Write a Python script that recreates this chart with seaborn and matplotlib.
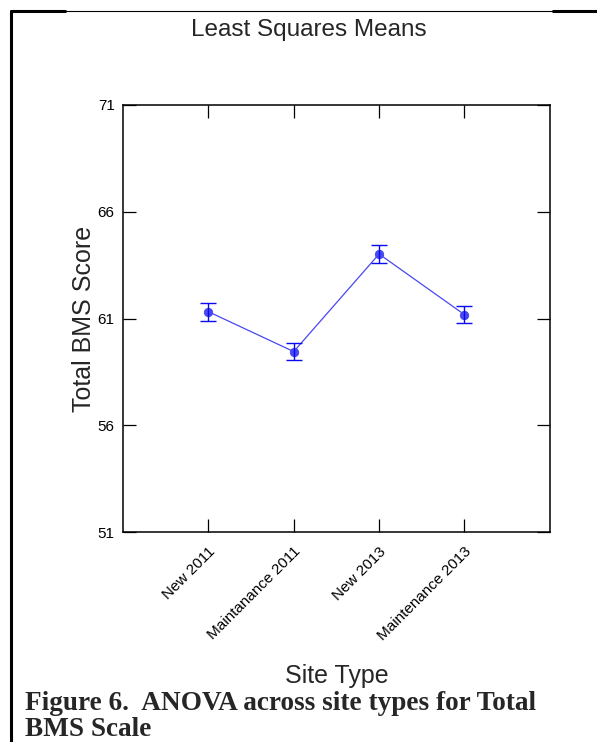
import matplotlib
matplotlib.use("Agg")
import matplotlib.pyplot as plt
import matplotlib.lines as mlines
import seaborn as sns
import pandas as pd

# data
site_types = ["New 2011", "Maintanance 2011", "New 2013", "Maintenance 2013"]
ls_means = [61.32, 59.45, 64.02, 61.18]
std_err = [0.42, 0.40, 0.44, 0.40]
y_ticks = [51, 56, 61, 66, 71]

df = pd.DataFrame({"site": site_types, "score": ls_means})

sns.set_style("white")
plt.rcParams["font.family"] = ["Liberation Sans", "DejaVu Sans"]

fig = plt.figure(figsize=(5.97, 7.42), dpi=100)
ax = fig.add_axes([0.206, 0.283, 0.715, 0.5755])

blue = "#0a0af0"
sns.pointplot(data=df, x="site", y="score", color=blue, markers="o",
              linestyles="-", errorbar=None, ax=ax,
              markersize=6, linewidth=0.9)
ax.errorbar(range(len(ls_means)), ls_means, yerr=std_err, fmt="none",
            ecolor=blue, elinewidth=1.0, capsize=5.5, capthick=1.0)
for l in ax.lines[:1]:
    l.set_color("#4848f0")

ax.set_xlim(-1, 4)
ax.set_ylim(51, 71)
ax.set_yticks(y_ticks)
ax.set_xticks(range(len(site_types)))
ax.set_xticklabels(site_types, rotation=45, ha="right", rotation_mode="anchor",
                   fontsize=11)
ax.tick_params(axis="y", labelsize=11)
ax.tick_params(direction="in", length=9.5, width=0.9, top=True, right=True,
               bottom=True, left=True, pad=6, colors="black")
ax.tick_params(axis="x", pad=9)
for s in ax.spines.values():
    s.set_visible(True)
    s.set_color("black")
    s.set_linewidth(1.1)

ax.set_xlabel("Site Type", fontsize=18, labelpad=15)
ax.set_ylabel("Total BMS Score", fontsize=18, labelpad=1)
fig.text(0.518, 0.959, "Least Squares Means", ha="center", va="center",
         fontsize=17.5)

# page border lines and caption
fig.add_artist(mlines.Line2D([11 / 597, 11 / 597], [0, 1 - 11 / 742],
                             color="black", linewidth=2.2,
                             transform=fig.transFigure))
fig.add_artist(mlines.Line2D([11 / 597, 65 / 597], [1 - 11 / 742] * 2,
                             color="black", linewidth=2.2,
                             transform=fig.transFigure))
fig.add_artist(mlines.Line2D([65 / 597, 553 / 597], [1 - 11 / 742] * 2,
                             color="black", linewidth=0.8,
                             transform=fig.transFigure))
fig.add_artist(mlines.Line2D([553 / 597, 1], [1 - 11 / 742] * 2,
                             color="black", linewidth=2.2,
                             transform=fig.transFigure))
fig.text(25 / 597, 1 - 703 / 742, "Figure 6.  ANOVA across site types for Total",
         fontfamily="Liberation Serif", fontweight="bold", fontsize=19.6,
         va="center", ha="left")
fig.text(25 / 597, 1 - 730 / 742, "BMS Scale",
         fontfamily="Liberation Serif", fontweight="bold", fontsize=19.6,
         va="center", ha="left")

fig.savefig("out.png", dpi=100)
